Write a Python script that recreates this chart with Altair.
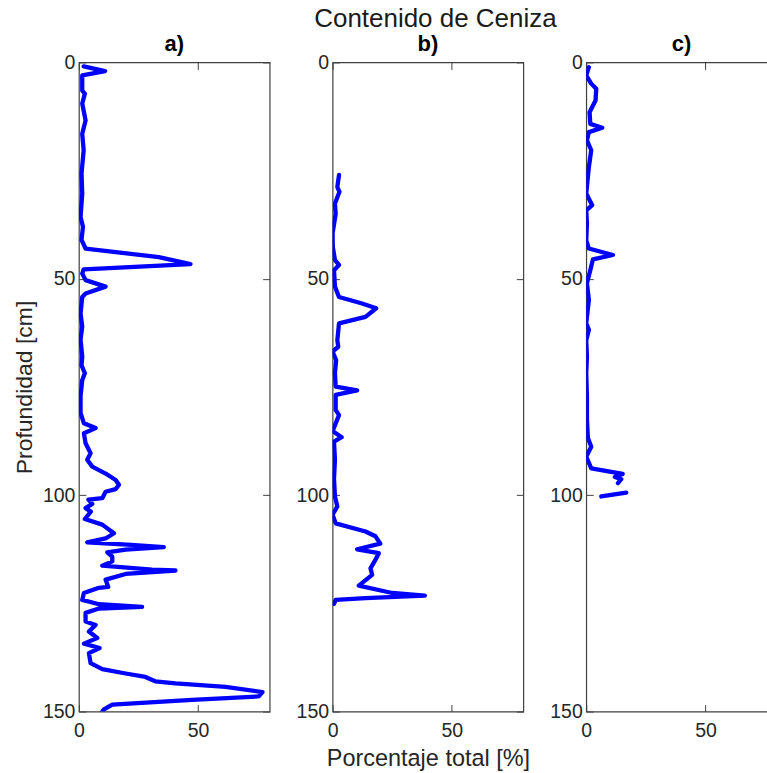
import altair as alt
import pandas as pd

# ---- data ----
depth_a = [0.9, 2.0, 3.0, 6.5, 7.2, 9.5, 13.4, 16.5, 20.3, 25.7, 30.3, 35.7, 38.0, 41.0, 43.0,
           45.0, 46.6, 47.8, 48.8, 50.3, 51.8, 53.4, 54.2, 58.0, 61.0, 64.0, 68.0, 70.0, 71.8,
           73.4, 75.0, 77.0, 81.0, 83.4, 84.5, 85.7, 88.0, 90.3, 91.8, 93.4, 95.0, 96.5, 97.6,
           98.6, 99.2, 100.7, 101.0, 102.0, 103.0, 103.8, 105.5, 106.8, 108.8, 110.0, 110.9,
           111.5, 112.0, 112.6, 113.2, 114.2, 115.3, 116.3, 117.2, 117.4, 118.2, 119.5, 121.2,
           121.4, 122.6, 124.2, 125.2, 125.8, 126.2, 127.2, 129.2, 130.0, 131.5, 133.0, 134.3,
           135.3, 136.5, 138.8, 140.2, 141.2, 142.0, 143.0, 143.5, 144.3, 145.5, 146.5, 147.3,
           148.4, 149.5, 150.0]
val_a = [2.0, 11.0, 1.4, 1.4, 2.5, 1.4, 2.8, 1.4, 2.0, 1.1, 1.4, 0.7, 1.7, 1.1, 2.8,
         33.5, 46.8, 2.0, 1.4, 2.8, 11.2, 2.8, 1.4, 0.7, 1.4, 0.7, 1.4, 1.1, 2.5,
         1.4, 1.1, 0.7, 0.7, 2.1, 7.0, 2.1, 2.8, 4.9, 3.5, 5.6, 11.2, 15.4, 16.8,
         15.4, 11.2, 9.8, 4.0, 5.6, 2.8, 5.0, 2.5, 9.8, 14.7, 11.2, 3.5,
         22.0, 35.6, 19.6, 11.9, 14.0, 14.0, 9.8, 30.7, 40.5, 19.6, 11.2, 12.3,
         8.4, 2.1, 1.4, 8.4, 26.5, 8.4, 2.8, 2.8, 7.0, 4.2, 7.7, 2.1,
         8.7, 4.2, 4.9, 9.8, 19.6, 27.9, 32.0, 40.5, 61.5, 77.0, 75.4, 47.5,
         14.0, 10.5, 9.8]

depth_b = [26.0, 28.8, 29.9, 32.6, 35.0, 39.5, 42.6, 45.7, 46.8, 48.0, 51.8, 54.2, 55.7, 56.8,
           58.8, 60.3, 64.2, 65.7, 66.8, 68.8, 71.8, 74.9, 75.8, 76.8, 80.3, 81.5, 85.2, 86.6,
           87.6, 91.8, 96.2, 100.3, 102.6, 104.5, 106.5, 108.4, 109.5, 111.2, 112.5, 113.4,
           114.9, 116.9, 118.4, 120.9, 122.6, 123.2, 123.8, 124.2, 125.1]
val_b = [2.7, 2.0, 2.9, 1.0, 1.3, 0.0, 0.1, 1.0, 2.7, 0.6, 1.0, 2.7, 12.4, 18.3,
         13.8, 2.7, 2.0, 2.4, 0.0, 1.5, 1.0, 1.3, 10.3, 1.3, 1.3, 2.7, 0.0, 3.8,
         0.6, 1.0, 0.6, 1.0, 2.0, 0.0, 1.3, 13.8, 18.0, 20.0, 10.3, 19.4,
         18.0, 15.9, 16.6, 11.0, 25.0, 38.7, 13.8, 1.3, 0.6]

depth_c1 = [1.1, 3.0, 4.9, 6.1, 8.8, 10.3, 11.5, 14.2, 15.1, 16.1, 18.0, 20.3, 24.2, 30.3,
            33.0, 34.2, 37.2, 41.1, 43.0, 44.5, 45.5, 48.0, 51.0, 54.9, 60.3, 61.8, 64.2,
            68.0, 71.8, 77.2, 82.6, 86.8, 88.8, 91.1, 93.8, 95.1, 95.8, 96.3, 97.2]
val_c1 = [1.1, 0.0, 2.1, 4.2, 3.9, 2.5, 1.4, 1.7, 6.7, 1.1, 0.3, 2.1, 1.1, 0.0,
          2.5, 0.0, 0.3, 0.0, 1.1, 11.2, 2.8, 1.7, 0.3, 1.1, 0.0, 1.1, 0.0,
          0.3, 0.0, 0.3, 0.3, 0.7, 2.1, 0.0, 2.1, 15.3, 12.0, 14.7, 13.3]
depth_c2 = [99.4, 100.3]
val_c2 = [16.8, 6.3]

x_ticks = [0, 50]
y_ticks = [0, 50, 100, 150]

FONT = "Liberation Sans"
TXT = "#262626"
BLUE = "#0000ff"
PW, PH = 191, 650


def frame(depths, vals, seg):
    return pd.DataFrame({"depth": depths, "val": vals, "seg": seg})


df_a = frame(depth_a, val_a, "1")
df_b = frame(depth_b, val_b, "1")
df_c = pd.concat([frame(depth_c1, val_c1, "1"), frame(depth_c2, val_c2, "2")], ignore_index=True)


def panel(df, name, xtitle, ytitle):
    xs = alt.Scale(domain=[0, 80], nice=False, zero=False)
    ys = alt.Scale(domain=[0, 150], reverse=True, nice=False, zero=False)
    base = alt.Chart(df)
    line = base.mark_line(color=BLUE, strokeWidth=4.3, clip=True, strokeJoin="round", strokeCap="round").encode(
        x=alt.X("val:Q", scale=xs, axis=alt.Axis(
            orient="bottom", values=x_ticks, ticks=False, domain=False, grid=False,
            labelFontSize=19.5, labelFont=FONT, labelColor=TXT, labelPadding=10, labelFlush=False,
            title=xtitle, titleFontSize=23.5, titleFont=FONT, titleColor=TXT,
            titleFontWeight="normal", titlePadding=6)),
        y=alt.Y("depth:Q", scale=ys, axis=alt.Axis(
            orient="left", values=y_ticks, ticks=False, domain=False, grid=False,
            labelFontSize=19.5, labelFont=FONT, labelColor=TXT, labelPadding=4, labelFlush=False,
            title=ytitle, titleFontSize=23, titleFont=FONT, titleColor=TXT,
            titleFontWeight="normal", titlePadding=6)),
        detail="seg:N",
        order="depth:Q",
    )
    tk1 = base.mark_line(opacity=0).encode(
        x=alt.X("val:Q", scale=xs, axis=alt.Axis(
            orient="bottom", offset=-7, tickSize=7, values=x_ticks, labels=False,
            domain=False, grid=False, title=None, tickColor="#404040")),
        y=alt.Y("depth:Q", scale=ys, axis=alt.Axis(
            orient="left", offset=-7, tickSize=7, values=y_ticks, labels=False,
            domain=False, grid=False, title=None, tickColor="#404040")),
        detail="seg:N",
    )
    tk2 = base.mark_line(opacity=0).encode(
        x=alt.X("val:Q", scale=xs, axis=alt.Axis(
            orient="top", offset=-7, tickSize=7, values=x_ticks, labels=False,
            domain=False, grid=False, title=None, tickColor="#404040")),
        y=alt.Y("depth:Q", scale=ys, axis=alt.Axis(
            orient="right", offset=-7, tickSize=7, values=y_ticks, labels=False,
            domain=False, grid=False, title=None, tickColor="#404040")),
        detail="seg:N",
    )
    return alt.layer(line, tk1, tk2).resolve_axis(x="independent", y="independent").properties(
        width=PW, height=PH,
        title=alt.TitleParams(name, fontSize=22, fontWeight="bold", font=FONT, color="#000000",
                              anchor="middle", offset=-4),
    )


pa = panel(df_a, "a)", None, "Profundidad [cm]")
pb = panel(df_b, "b)", "Porcentaje total [%]", None)
pc = panel(df_c, "c)", None, None)

chart = alt.hconcat(pa, pb, pc, spacing=63, bounds="flush").properties(
    title=alt.TitleParams("Contenido de Ceniza", fontSize=26, fontWeight="normal", font=FONT,
                          color="#1a1a1a", anchor="middle", offset=1, dx=40),
    padding={"left": 12, "top": 5, "right": -12, "bottom": 0},
    background="white",
).configure_view(stroke="#404040", strokeWidth=1.2)

chart.save("out.html", embed_options={"renderer": "svg", "actions": False})
